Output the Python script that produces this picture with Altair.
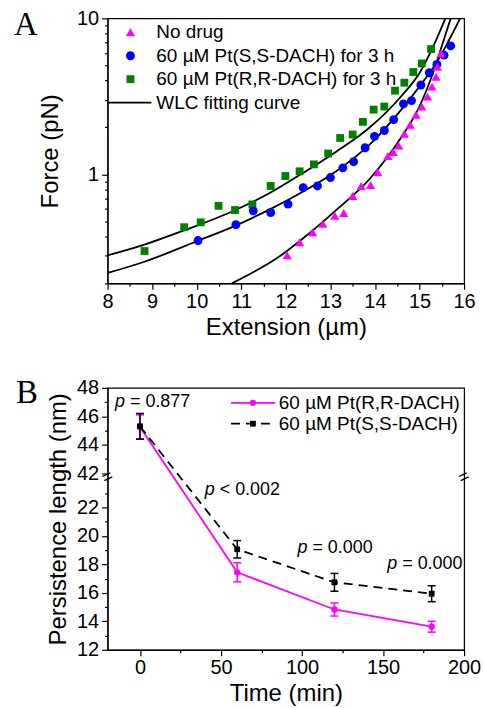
import altair as alt
import pandas as pd

# ---------------- Panel A data ----------------
nodrug_x = [12.03, 12.31, 12.60, 12.83, 13.10, 13.30, 13.50, 13.69, 13.90, 14.06, 14.29,
            14.41, 14.53, 14.66, 14.79, 14.92, 15.05, 15.18, 15.28, 15.37, 15.40, 15.48]
nodrug_y = [0.302, 0.367, 0.425, 0.481, 0.542, 0.565, 0.727, 0.842, 0.855, 1.03, 1.31,
            1.39, 1.53, 1.82, 2.08, 2.41, 2.72, 3.15, 3.65, 4.23, 4.90, 5.96]
ss_x = [10.03, 10.88, 11.27, 11.66, 12.05, 12.39, 12.71, 13.00, 13.28, 13.52, 13.78,
        13.99, 14.21, 14.42, 14.64, 14.82, 15.03, 15.22, 15.39, 15.55, 15.70]
ss_y = [0.376, 0.475, 0.583, 0.569, 0.644, 0.822, 0.842, 0.953, 1.10, 1.205, 1.48,
        1.75, 1.91, 2.24, 2.83, 2.97, 3.74, 4.48, 5.07, 5.81, 6.66]
rr_x = [8.83, 9.72, 10.09, 10.49, 10.86, 11.25, 11.66, 11.99, 12.31, 12.63, 12.95,
        13.22, 13.50, 13.73, 13.97, 14.21, 14.45, 14.66, 14.86, 15.05, 15.26]
rr_y = [0.322, 0.458, 0.492, 0.628, 0.590, 0.641, 0.842, 0.975, 1.045, 1.158, 1.36,
        1.71, 1.80, 2.17, 2.60, 2.72, 3.44, 3.87, 4.53, 5.14, 6.36]

# WLC fitting curves
fit_nodrug_x = [10.79, 11.87, 12.39, 13.13, 13.88, 14.62, 14.99, 15.29, 15.52, 15.70]
fit_nodrug_y = [0.2, 0.299, 0.389, 0.589, 0.933, 1.778, 2.69, 4.37, 6.92, 10.0]
fit_ss_x = [8.0, 8.81, 10.0, 10.82, 11.64, 12.39, 13.13, 13.88, 14.62, 15.07, 15.37, 15.66, 15.91]
fit_ss_y = [0.233, 0.274, 0.372, 0.462, 0.596, 0.776, 1.047, 1.549, 2.66, 3.89, 5.13, 7.24, 10.0]
fit_rr_x = [8.0, 8.81, 9.70, 10.82, 11.64, 12.39, 13.13, 13.88, 14.62, 14.99, 15.37, 15.58]
fit_rr_y = [0.302, 0.353, 0.435, 0.582, 0.759, 1.023, 1.396, 1.995, 3.24, 4.42, 7.24, 10.0]

legend_a_labels = ["No drug", "60 \u00b5M Pt(S,S-DACH) for 3 h",
                   "60 \u00b5M Pt(R,R-DACH) for 3 h", "WLC fitting curve"]

# ---------------- Panel B data ----------------
time_min = [0, 60, 120, 180]
rr_mean = [45.25, 17.44, 14.83, 13.62]
rr_err = [0.85, 0.67, 0.46, 0.38]
ss_mean = [45.3, 19.06, 16.74, 15.94]
ss_err = [0.9, 0.61, 0.625, 0.56]
legend_b_labels = ["60 \u00b5M Pt(R,R-DACH)", "60 \u00b5M Pt(S,S-DACH)"]

p_text = ["= 0.877", "< 0.002", "= 0.000", "= 0.000"]
p_time = [-15.4, 40.0, 97.2, 152.6]
p_val = [47.0, 23.2, 19.14, 18.02]

# axis break: values above 30 are shifted down by this amount
BREAK_SHIFT = 17.6

FONT = "Liberation Sans"
MAGENTA = "#ff00ff"
BLUE = "#0000ff"
GREEN = "#008000"

# ================= Panel A =================
WA, HA = 358, 266
xa_vals = [8 + 0.5 * i for i in range(17)]
ya_vals = [0.2, 0.3, 0.4, 0.5, 0.6, 0.7, 0.8, 0.9, 1, 2, 3, 4, 5, 6, 7, 8, 9, 10]

xA = alt.X("x:Q", scale=alt.Scale(domain=[8, 16], nice=False, zero=False),
           axis=alt.Axis(values=xa_vals, title="Extension (\u00b5m)",
                         labelExpr="datum.value % 1 == 0 ? format(datum.value, 'd') : ''",
                         tickSize={"condition": {"test": "datum.value % 1 != 0", "value": 3}, "value": 6},
                         labelOverlap=False, labelFlush=False, grid=False,
                         labelPadding=2, titlePadding=4))
yA = alt.Y("y:Q", scale=alt.Scale(type="log", domain=[0.2, 10], nice=False),
           axis=alt.Axis(values=ya_vals, title="Force (pN)",
                         labelExpr="datum.value == 1 || datum.value == 10 ? format(datum.value, 'd') : ''",
                         tickSize={"condition": {"test": "datum.value == 1 || datum.value == 10", "value": 6}, "value": 3},
                         labelOverlap=False, labelFlush=False, grid=False,
                         labelPadding=3, titlePadding=14))

fit_df = pd.concat([
    pd.DataFrame({"x": fit_nodrug_x, "y": fit_nodrug_y, "curve": "nodrug"}),
    pd.DataFrame({"x": fit_ss_x, "y": fit_ss_y, "curve": "ss"}),
    pd.DataFrame({"x": fit_rr_x, "y": fit_rr_y, "curve": "rr"}),
])
fits = alt.Chart(fit_df).mark_line(color="black", strokeWidth=1.8, clip=True,
                                   interpolate="monotone").encode(x=xA, y=yA, detail="curve:N")

pts_nd = alt.Chart(pd.DataFrame({"x": nodrug_x, "y": nodrug_y})).mark_point(
    shape="triangle-up", filled=True, color=MAGENTA, opacity=1, size=85).encode(x=xA, y=yA)
pts_ss = alt.Chart(pd.DataFrame({"x": ss_x, "y": ss_y})).mark_point(
    shape="circle", filled=True, color=BLUE, opacity=1, size=80).encode(x=xA, y=yA)
pts_rr = alt.Chart(pd.DataFrame({"x": rr_x, "y": rr_y})).mark_point(
    shape="square", filled=True, color=GREEN, opacity=1, size=62).encode(x=xA, y=yA)


def one(label):
    return alt.Chart(pd.DataFrame({"label": [label]}))


legA = []
leg_shapes = [("triangle-up", MAGENTA, 85), ("circle", BLUE, 80), ("square", GREEN, 62)]
for i, (shp, col, sz) in enumerate(leg_shapes):
    yy = 14 + i * 23.5
    legA.append(one(legend_a_labels[i]).mark_point(shape=shp, filled=True, color=col, opacity=1, size=sz)
                .encode(x=alt.value(23), y=alt.value(yy)))
for i, lab in enumerate(legend_a_labels):
    yy = 14 + i * 23.5
    legA.append(one(lab).mark_text(align="left", baseline="middle", fontSize=19, font=FONT, color="black")
                .encode(text="label:N", x=alt.value(49), y=alt.value(yy)))
legA.append(one("line").mark_rule(color="black", strokeWidth=1.8)
            .encode(x=alt.value(0), x2=alt.value(44), y=alt.value(14 + 3 * 23.5)))

letterA = one("A").mark_text(align="left", baseline="alphabetic", fontSize=33,
                             font="Liberation Serif", color="black").encode(
    text="label:N", x=alt.value(-94), y=alt.value(17))

panelA = alt.layer(fits, pts_rr, pts_ss, pts_nd, *legA, letterA).properties(width=WA, height=HA)

# ================= Panel B =================
WB, HB = 358, 263
lower_vals = list(range(12, 24))
upper_vals = [round(v - BREAK_SHIFT, 1) for v in range(42, 49)]
yb_vals = lower_vals + upper_vals

orig_expr = f"(datum.value > 24 ? round(datum.value + {BREAK_SHIFT}) : round(datum.value))"
xAxisB = alt.Axis(values=list(range(0, 201, 25)), title="Time (min)",
                  labelExpr="datum.value % 50 == 0 ? format(datum.value, 'd') : ''",
                  tickSize={"condition": {"test": "datum.value % 50 != 0", "value": 3}, "value": 6},
                  labelOverlap=False, labelFlush=False, grid=False,
                  labelPadding=2, titlePadding=4)
xscaleB = alt.Scale(domain=[-20, 200], nice=False, zero=False)
yAxisB = alt.Axis(values=yb_vals, title="Persistence length (nm)",
                  labelExpr=f"{orig_expr} % 2 == 0 ? {orig_expr} + '' : ''",
                  tickSize={"condition": {"test": f"{orig_expr} % 2 == 0", "value": 6}, "value": 3},
                  labelOverlap=False, labelFlush=False, labelBound=False, grid=False,
                  labelPadding=3, titlePadding=6)
yscaleB = alt.Scale(domain=[12, 48 - BREAK_SHIFT], nice=False, zero=False)


def xB(field="time"):
    return alt.X(f"{field}:Q", scale=xscaleB, axis=xAxisB)


def yB(field):
    return alt.Y(f"{field}:Q", scale=yscaleB, axis=yAxisB)


def y2B(field):
    return alt.Y2(f"{field}:Q")


def brk(field):
    return f"datum.{field} > 30 ? datum.{field} - {BREAK_SHIFT} : datum.{field}"


def series_chart(mean, err, color, shape, dash, msize):
    df = pd.DataFrame({"time": time_min, "mean": mean, "err": err})
    base = alt.Chart(df).transform_calculate(
        lo_raw="datum.mean - datum.err", hi_raw="datum.mean + datum.err"
    ).transform_calculate(
        v=brk("mean"), lo=brk("lo_raw"), hi=brk("hi_raw"))
    line_kw = dict(color=color, strokeWidth=1.8)
    if dash:
        line_kw["strokeDash"] = dash
    line = base.mark_line(**line_kw).encode(x=xB(), y=yB("v"))
    bar = base.mark_rule(color=color, strokeWidth=1.5).encode(
        x=xB(), y=yB("lo"), y2=y2B("hi"))
    cap_lo = base.mark_rule(color=color, strokeWidth=1.5, xOffset=-4, x2Offset=4).encode(
        x=xB(), x2=alt.X2("time:Q"), y=yB("lo"))
    cap_hi = base.mark_rule(color=color, strokeWidth=1.5, xOffset=-4, x2Offset=4).encode(
        x=xB(), x2=alt.X2("time:Q"), y=yB("hi"))
    pts = base.mark_point(shape=shape, filled=True, color=color, opacity=1, size=msize).encode(
        x=xB(), y=yB("v"))
    return [line, bar, cap_lo, cap_hi, pts]


rr_layers = series_chart(rr_mean, rr_err, MAGENTA, "circle", None, 40)
ss_layers = series_chart(ss_mean, ss_err, "black", "square", [9, 6], 34)

p_df = pd.DataFrame({"time": p_time, "val": p_val, "txt": p_text})
p_base = alt.Chart(p_df).transform_calculate(v=brk("val"))
p_italic = p_base.mark_text(align="left", baseline="middle", fontSize=18, font=FONT,
                            fontStyle="italic", color="black", text="p").encode(
    x=xB(), y=yB("v"))
p_rest = p_base.mark_text(align="left", baseline="middle", fontSize=18, font=FONT,
                          color="black", dx=15).encode(x=xB(), y=yB("v"), text="txt:N")

brk_df = pd.DataFrame({"time": [-20, 200], "v": [24.1, 24.1]})
breaks = alt.Chart(brk_df).mark_text(text="=", fontSize=18, angle=335, color="black",
                                     font=FONT, baseline="middle", align="center").encode(
    x=xB(), y=yB("v"))

legB = []
leg_b_style = [(MAGENTA, "circle", None, 40), ("black", "square", [9, 6], 34)]
for i, (col, shp, dash, msz) in enumerate(leg_b_style):
    yy = 15 + i * 21
    kw = dict(color=col, strokeWidth=1.8)
    if dash:
        kw["strokeDash"] = dash
    legB.append(one(legend_b_labels[i]).mark_rule(**kw).encode(
        x=alt.value(124), x2=alt.value(168), y=alt.value(yy)))
    legB.append(one(legend_b_labels[i]).mark_point(shape=shp, filled=True, color=col, opacity=1, size=msz)
                .encode(x=alt.value(146), y=alt.value(yy)))
    legB.append(one(legend_b_labels[i]).mark_text(align="left", baseline="middle", fontSize=19,
                                                  font=FONT, color="black")
                .encode(text="label:N", x=alt.value(172), y=alt.value(yy)))

letterB = one("B").mark_text(align="left", baseline="alphabetic", fontSize=33,
                             font="Liberation Serif", color="black").encode(
    text="label:N", x=alt.value(-92), y=alt.value(15))

panelB = alt.layer(*rr_layers, *ss_layers, p_italic, p_rest, breaks, *legB, letterB).properties(
    width=WB, height=HB)

chart = alt.vconcat(panelA, panelB, spacing=36).properties(
    padding={"left": 13, "top": 6, "right": 2, "bottom": 2}
).configure_view(stroke="black", strokeWidth=1.2).configure_axis(
    labelFont=FONT, titleFont=FONT, labelFontSize=20, titleFontSize=24,
    titleFontWeight="normal", labelColor="black", titleColor="black",
    domainColor="black", tickColor="black", domainWidth=1.2, tickWidth=1.2
).configure_text(font=FONT)

chart.save("out.html", embed_options={"renderer": "svg", "actions": False})
